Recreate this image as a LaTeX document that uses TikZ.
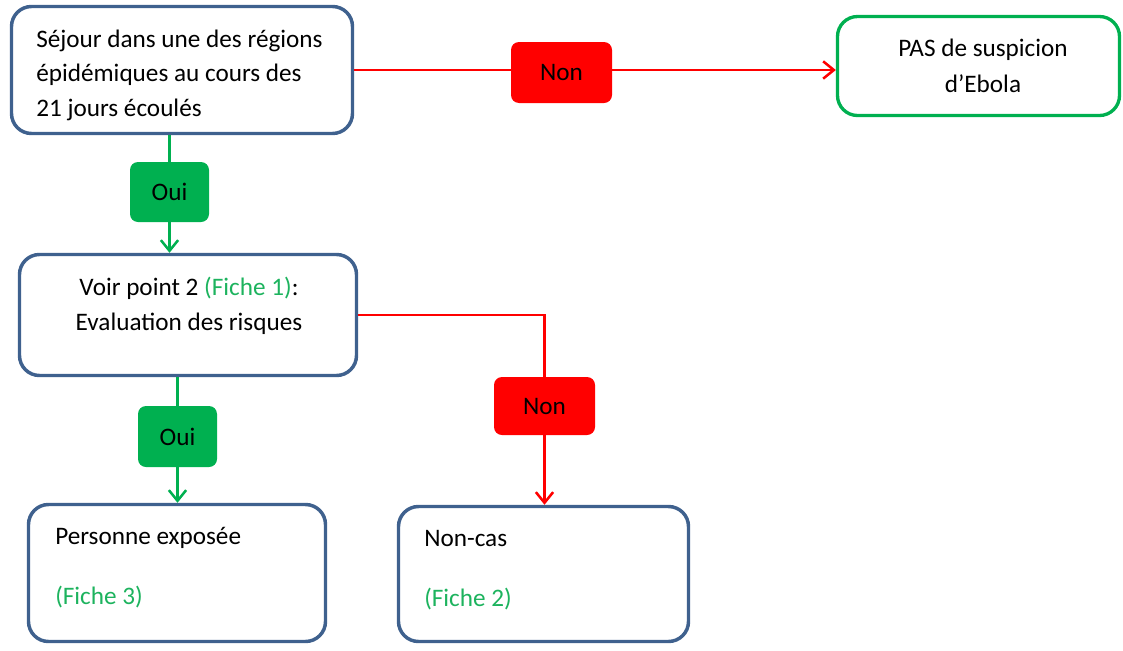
\documentclass[tikz,border=0pt]{standalone}
\usepackage{fontspec}
\setmainfont{Carlito}
\usetikzlibrary{arrows.meta,calc}
\definecolor{bord}{HTML}{3F618E}
\definecolor{vert}{HTML}{00B050}
\definecolor{rouge}{HTML}{FF0000}
\definecolor{fiche}{HTML}{1DB35E}
\begin{document}
\begin{tikzpicture}[x=0.75pt,y=-0.75pt,
  every node/.style={font=\fontsize{18.9}{22}\selectfont, text=black},
  box/.style={draw=bord, line width=2.6pt, rounded corners=15pt, inner sep=0pt},
  gbox/.style={draw=vert, line width=2.5pt, rounded corners=15pt, inner sep=0pt},
  rlab/.style={fill=rouge, rounded corners=6pt, inner sep=0pt, minimum width=75.75pt},
  glab/.style={fill=vert, rounded corners=6pt, inner sep=0pt, minimum width=59.25pt},
  txt/.style={inner sep=0pt},
  rline/.style={draw=rouge, line width=1.9pt, -{Straight Barb[length=8pt,width=13pt,line width=1.9pt]}},
  gline/.style={draw=vert, line width=1.9pt, -{Straight Barb[length=8pt,width=13pt,line width=1.9pt]}}]
\useasboundingbox (0,0) rectangle (1123,650);
% boxes
\node[box, minimum width=255.75pt, minimum height=95.25pt] (A) at (182,70) {};
\node[gbox, minimum width=211.5pt, minimum height=74.25pt] (P) at (978.5,66) {};
\node[box, minimum width=252.75pt, minimum height=90.75pt] (B) at (188,315) {};
\node[box, minimum width=222.75pt, minimum height=102.75pt] (C) at (177,573) {};
\node[box, minimum width=217.5pt, minimum height=101.25pt] (D) at (543.5,574) {};
% label positions
\coordinate (nA) at (561.5,72.5);
\coordinate (oA) at (169.5,192);
\coordinate (nB) at (544.5,406);
\coordinate (oB) at (177.5,436.5);
% connectors
\draw[rline] (A.east) -- (A.east -| P.west);
\draw[gline] (A.south -| oA) -- (B.north -| oA);
\draw[rline] (B.east) -- (B.east -| nB) -- (D.north -| nB);
\draw[gline] (B.south -| oB) -- (C.north -| oB);
% labels
\node[rlab, minimum height=45.75pt] (nonA) at (nA) {Non};
\node[glab, minimum height=45pt] (ouiA) at (oA) {Oui};
\node[rlab, minimum height=43.5pt] (nonB) at (nB) {Non};
\node[glab, minimum height=45.75pt] (ouiB) at (oB) {Oui};
% texts
\node[txt, anchor=base west] (a1) at (36,47) {Séjour dans une des régions};
\node[txt, anchor=base west] (a2) at (36,81.5) {épidémiques au cours des};
\node[txt, anchor=base west] (a3) at (36,116) {21 jours écoulés};
\node[txt, anchor=base] (p1) at (983,56) {PAS de suspicion};
\node[txt, anchor=base] (p2) at (983,92) {d’Ebola};
\node[txt, anchor=base] (b1) at (189,295) {Voir point 2 \textcolor{fiche}{(Fiche 1)}:};
\node[txt, anchor=base] (b2) at (189,330) {Evaluation des risques};
\node[txt, anchor=base west] (c1) at (55,544) {Personne exposée};
\node[txt, anchor=base west] (c2) at (55,604) {\textcolor{fiche}{(Fiche 3)}};
\node[txt, anchor=base west] (d1) at (424,546) {Non-cas};
\node[txt, anchor=base west] (d2) at (424,606) {\textcolor{fiche}{(Fiche 2)}};
\end{tikzpicture}
\end{document}
